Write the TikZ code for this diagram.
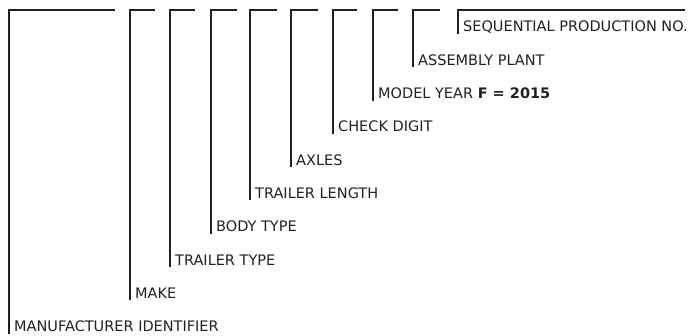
\documentclass[tikz,border=0pt]{standalone}
\usepackage{fontspec}
\setmainfont{DejaVu Sans}
\definecolor{vinblack}{HTML}{231F20}
\tikzset{
  bracket/.style={draw=vinblack, line width=1.8pt},
  field/.style={anchor=base west, inner sep=0pt, text=vinblack,
    font=\fontsize{14.5}{17}\selectfont},
}
\begin{document}
\begin{tikzpicture}[x=1pt,y=-1pt]
    \useasboundingbox (0,0) rectangle (691,336);
    %etichette dei campi
    \node[field] (mfr) at (14,332) {MANUFACTURER IDENTIFIER};
    \node[field] (make) at (135,298.5) {MAKE};
    \node[field] (ttype) at (175,265.5) {TRAILER TYPE};
    \node[field] (body) at (216,232) {BODY TYPE};
    \node[field] (tlen) at (255,198.5) {TRAILER LENGTH};
    \node[field] (axles) at (296,165.5) {AXLES};
    \node[field] (check) at (338,132) {CHECK DIGIT};
    \node[field] (year) at (378,99) {MODEL YEAR \textbf{F = 2015}};
    \node[field] (plant) at (418,65.5) {ASSEMBLY PLANT};
    \node[field] (serial) at (463,32) {SEQUENTIAL PRODUCTION NO.};
    %%%%%%%%%%%%%%%%%%%%%%%%%%%%%%%%%%%%%%%%%%%%%%%%%%%%%%%%%%%%%%%%%%%%%%%%%%
    %estremi delle staffe in alto
    \coordinate (e1) at (115,10);
    \coordinate (e2) at (155,10);
    \coordinate (e3) at (195,10);
    \coordinate (e4) at (237,10);
    \coordinate (e5) at (277,10);
    \coordinate (e6) at (318,10);
    \coordinate (e7) at (357,10);
    \coordinate (e8) at (398,10);
    \coordinate (e9) at (440,10);
    \coordinate (e10) at (685,10);
    %%%%%%%%%%%%%%%%%%%%%%%%%%%%%%%%%%%%%%%%%%%%%%%%%%%%%%%%%%%%%%%%%%%%%%%%%%
    %staffe
    \draw[bracket] ([shift={(-5,2)}]mfr.base west) |- (e1);
    \draw[bracket] ([shift={(-5,2)}]make.base west) |- (e2);
    \draw[bracket] ([shift={(-5,2)}]ttype.base west) |- (e3);
    \draw[bracket] ([shift={(-5,2)}]body.base west) |- (e4);
    \draw[bracket] ([shift={(-5,2)}]tlen.base west) |- (e5);
    \draw[bracket] ([shift={(-5,2)}]axles.base west) |- (e6);
    \draw[bracket] ([shift={(-5,2)}]check.base west) |- (e7);
    \draw[bracket] ([shift={(-5,2)}]year.base west) |- (e8);
    \draw[bracket] ([shift={(-5,2)}]plant.base west) |- (e9);
    \draw[bracket] ([shift={(-5,2)}]serial.base west) |- (e10);
\end{tikzpicture}
\end{document}
